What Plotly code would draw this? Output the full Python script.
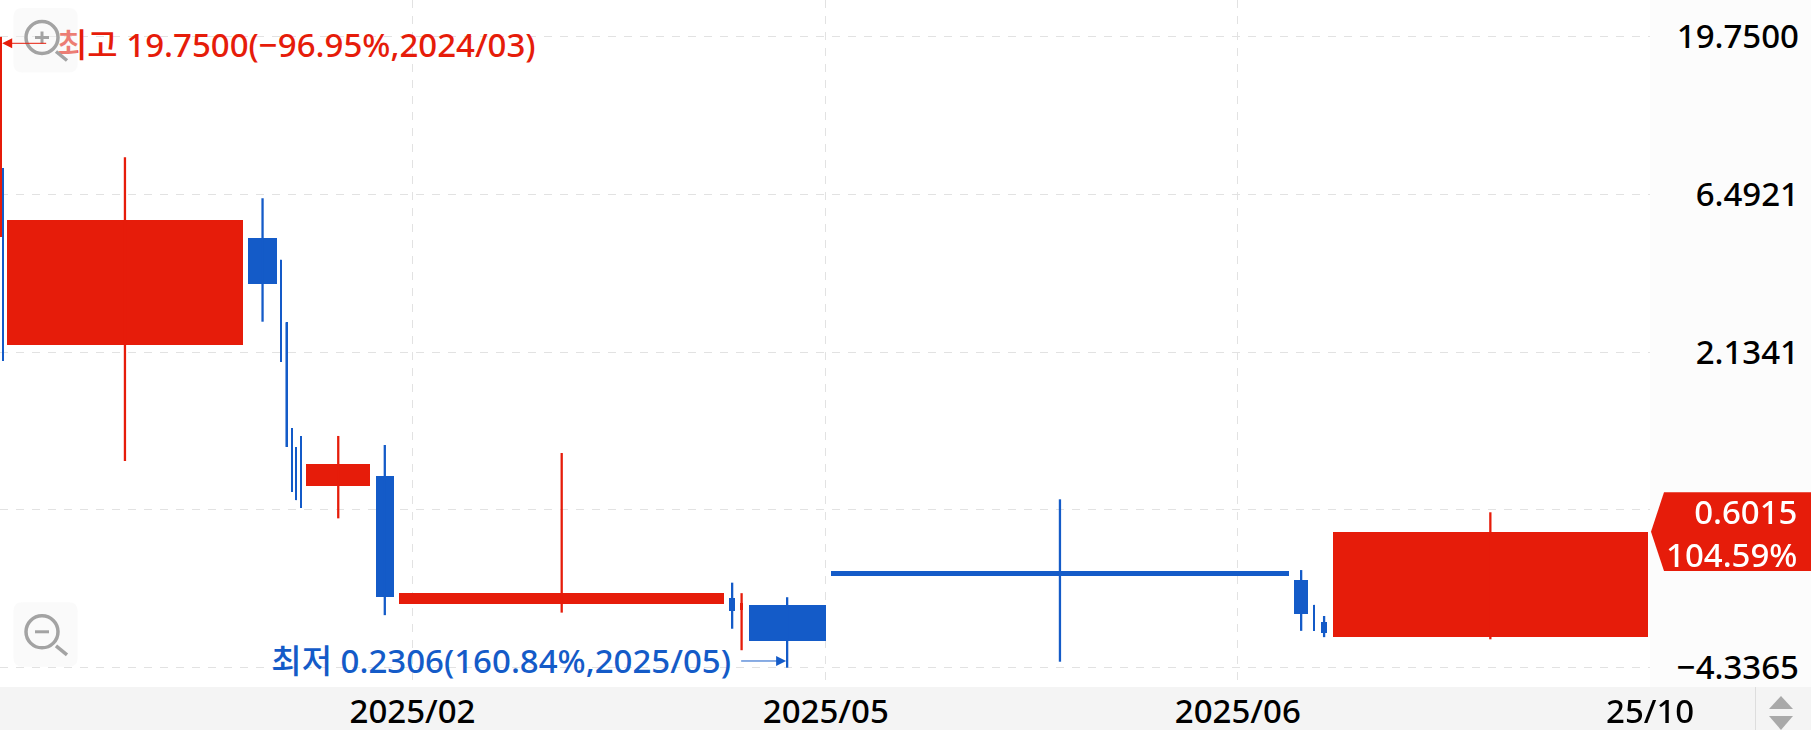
import plotly.graph_objects as go

# Candles of a volume-width (equivolume) chart, log price scale
candle_left = [0.6, 2.4, 6.5, 248.4, 280.3, 285.6, 291.4, 295.6, 300.2, 306.1,
               375.8, 399.0, 729.3, 740.3, 748.5, 831.0, 1294.3, 1313.5, 1321.2, 1332.5]
candle_volume = [1.2, 1.2, 236.9, 28.3, 1.2, 2.0, 1.2, 1.2, 1.2, 64.3,
                 18.0, 325.4, 5.7, 2.6, 77.3, 457.9, 13.7, 1.4, 5.8, 315.7]
price_open = [4.82, 7.82, 2.24, 4.785, 4.10, 2.635, 1.248, 1.091, 1.182, 0.830,
              0.891, 0.361, 0.376, 0.346, 0.3596, 0.455, 0.429, 0.3596, 0.319, 0.2858]
price_close = [19.75, 2.005, 5.43, 3.452, 1.996, 1.094, 0.798, 0.751, 0.711, 0.972,
               0.380, 0.390, 0.345, 0.364, 0.279, 0.440, 0.336, 0.299, 0.294, 0.6015]
price_high = [19.75, 7.82, 8.44, 6.32, 4.10, 2.635, 1.248, 1.091, 1.182, 1.182,
              1.109, 1.048, 0.420, 0.390, 0.379, 0.756, 0.459, 0.3596, 0.332, 0.690]
price_low = [4.82, 2.005, 0.991, 2.646, 1.996, 1.094, 0.798, 0.751, 0.711, 0.661,
             0.334, 0.340, 0.3035, 0.2608, 0.2306, 0.2405, 0.299, 0.299, 0.286, 0.2817]

price_ticks = [19.75, 6.4921, 2.1341, 0.7015, 0.2306]
price_tick_labels = ["19.7500", "6.4921", "2.1341", "", "−4.3365"]
date_ticks = [412.5, 825.8, 1237.8]
date_tick_labels = ["2025/02", "2025/05", "2025/06"]
last_date_label = "25/10"
high_label = "최고 19.7500(−96.95%,2024/03)"
low_label = "최저 0.2306(160.84%,2025/05)"
last_price_label = "0.6015"
last_change_label = "104.59%"

W, H = 1811, 730
PLOT_R, PLOT_B = 1650, 687
RED, BLUE = "#E61C0A", "#145BC8"
FONT = "Noto Sans, Noto Sans CJK KR"
FS = 33
WEIGHT = 500
X_MAX = 1650.0
Y_TOP, Y_BOTTOM = 1.40798, -0.69634


def px(x):
    return x / W


def py(y):
    return 1 - y / H


def poly(points, **kw):
    path = "M" + " L".join(f"{px(a):.5f},{py(b):.5f}" for a, b in points) + " Z"
    return dict(type="path", xref="paper", yref="paper", path=path, **kw)


def rrect(x0, y0, x1, y1, r, **kw):
    p = (f"M{px(x0+r):.5f},{py(y0):.5f} L{px(x1-r):.5f},{py(y0):.5f} "
         f"Q{px(x1):.5f},{py(y0):.5f} {px(x1):.5f},{py(y0+r):.5f} "
         f"L{px(x1):.5f},{py(y1-r):.5f} Q{px(x1):.5f},{py(y1):.5f} {px(x1-r):.5f},{py(y1):.5f} "
         f"L{px(x0+r):.5f},{py(y1):.5f} Q{px(x0):.5f},{py(y1):.5f} {px(x0):.5f},{py(y1-r):.5f} "
         f"L{px(x0):.5f},{py(y0+r):.5f} Q{px(x0):.5f},{py(y0):.5f} {px(x0+r):.5f},{py(y0):.5f} Z")
    return dict(type="path", xref="paper", yref="paper", path=p, **kw)


def seg(x0, y0, x1, y1, color, width):
    return dict(type="line", xref="paper", yref="paper", x0=px(x0), y0=py(y0), x1=px(x1), y1=py(y1),
                line=dict(color=color, width=width), layer="above")


def zoom_button(top, plus):
    cx, cy = 42, top + 29.5
    grey = "#A3A3A3"
    out = [rrect(13.4, top, 77.7, top + 64.5, 9, fillcolor="rgba(244,244,244,0.45)",
                 line=dict(width=0), layer="above")]
    out.append(dict(type="circle", xref="paper", yref="paper", x0=px(cx - 16), x1=px(cx + 16),
                    y0=py(cy + 16), y1=py(cy - 16), line=dict(color=grey, width=3.5), layer="above"))
    out.append(seg(cx + 14, cy + 14, cx + 25, cy + 23, grey, 3.5))
    out.append(seg(cx - 7, cy, cx + 7, cy, grey, 3))
    if plus:
        out.append(seg(cx, cy - 6, cx, cy + 6, grey, 3))
    return out


fig = go.Figure()
centers = [l + v / 2 for l, v in zip(candle_left, candle_volume)]

for color, up in ((RED, True), (BLUE, False)):
    idx = [i for i in range(len(centers)) if (price_close[i] > price_open[i]) == up]
    wick_x, wick_y, thin_x, thin_y = [], [], [], []
    for i in idx:
        tx, ty = (thin_x, thin_y) if candle_volume[i] < 1.5 else (wick_x, wick_y)
        tx += [centers[i], centers[i], None]
        ty += [price_low[i], price_high[i], None]
    fig.add_trace(go.Scatter(x=wick_x, y=wick_y, mode="lines", line=dict(color=color, width=2.3),
                             hoverinfo="skip", showlegend=False))
    fig.add_trace(go.Scatter(x=thin_x, y=thin_y, mode="lines", line=dict(color=color, width=1.2),
                             opacity=0.8, hoverinfo="skip", showlegend=False))
    fig.add_trace(go.Bar(
        x=[centers[i] for i in idx],
        width=[candle_volume[i] for i in idx],
        base=[min(price_open[i], price_close[i]) for i in idx],
        y=[abs(price_close[i] - price_open[i]) for i in idx],
        marker=dict(color=color, line=dict(width=0)),
        hoverinfo="skip", showlegend=False))

fig.add_trace(go.Scatter(x=[57], y=[18.16], mode="text", text=[high_label], textposition="middle right",
                         textfont=dict(family=FONT, size=FS, weight=WEIGHT, color=RED), cliponaxis=False,
                         hoverinfo="skip", showlegend=False))
fig.add_trace(go.Scatter(x=[731], y=[0.235], mode="text", text=[low_label], textposition="middle left",
                         textfont=dict(family=FONT, size=FS, weight=WEIGHT, color=BLUE), cliponaxis=False,
                         hoverinfo="skip", showlegend=False))

shapes = [
    dict(type="rect", xref="paper", yref="paper", x0=px(PLOT_R), x1=1, y0=py(PLOT_B), y1=1,
         fillcolor="#FCFCFC", line=dict(width=0), layer="below"),
    dict(type="rect", xref="paper", yref="paper", x0=0, x1=1, y0=0, y1=py(PLOT_B),
         fillcolor="#F4F4F4", line=dict(width=0), layer="below"),
    seg(1755.5, 687, 1755.5, 730, "#DDDDDD", 1),
    poly([(1651, 531.7), (1664, 492.3), (1811, 492.3), (1811, 571), (1664, 571)],
         fillcolor=RED, line=dict(width=0), layer="above"),
    poly([(1781, 696), (1769, 709), (1793, 709)], fillcolor="#A9A9A9", line=dict(width=0), layer="above"),
    poly([(1769, 716), (1793, 716), (1781, 730)], fillcolor="#A9A9A9", line=dict(width=0), layer="above"),
]
shapes += zoom_button(8, True) + zoom_button(602.3, False)

annotations = [
    dict(x=centers[0] + 1, y=1.29557, xref="x", yref="y", text=" ", showarrow=True, ax=47, ay=0, yshift=-6.6,
         arrowcolor=RED, arrowwidth=1, arrowhead=2, arrowsize=2, standoff=0),
    dict(x=centers[14] - 1, y=-0.6372, xref="x", yref="y", text=" ", showarrow=True, ax=-48, ay=0, yshift=6.7,
         arrowcolor=BLUE, arrowwidth=1, arrowhead=2, arrowsize=2, standoff=0),
    dict(x=px(1799), y=py(533), xref="paper", yref="paper",
         text=last_price_label + "<br>" + last_change_label, showarrow=False, align="right",
         xanchor="right", yanchor="middle", font=dict(family=FONT, size=FS, weight=WEIGHT, color="white")),
    dict(x=px(1650), y=py(710), xref="paper", yref="paper", text=last_date_label, showarrow=False,
         xanchor="center", yanchor="middle", font=dict(family=FONT, size=FS, weight=WEIGHT, color="black")),
]

GRID = "#E2E2E2"
fig.update_layout(
    width=W, height=H, margin=dict(l=0, r=0, t=0, b=0, pad=0, autoexpand=False),
    paper_bgcolor="white", plot_bgcolor="white", barmode="overlay", bargap=0,
    showlegend=False, shapes=shapes, annotations=annotations,
    font=dict(family=FONT, color="black"),
    xaxis=dict(domain=[0, PLOT_R / W], range=[0, X_MAX], tickmode="array", tickvals=date_ticks,
               ticktext=date_tick_labels, tickfont=dict(family=FONT, size=FS, weight=WEIGHT, color="black"),
               showgrid=True, gridcolor=GRID, griddash="8px,8px", gridwidth=1, automargin=False,
               zeroline=False, showline=False, ticks="", ticklabelstandoff=2),
    yaxis=dict(domain=[1 - PLOT_B / H, 1], type="log", range=[Y_BOTTOM, Y_TOP], tickmode="array",
               tickvals=price_ticks, ticktext=price_tick_labels, side="left", anchor="free",
               position=1799 / W, tickfont=dict(family=FONT, size=FS, weight=WEIGHT, color="black"),
               showgrid=True, gridcolor=GRID, griddash="8px,8px", gridwidth=1, automargin=False,
               zeroline=False, showline=False, ticks=""),
)

fig.write_html("out.html", config=dict(displayModeBar=False),
               post_script="document.body.style.margin='0';document.body.style.overflow='hidden';")
